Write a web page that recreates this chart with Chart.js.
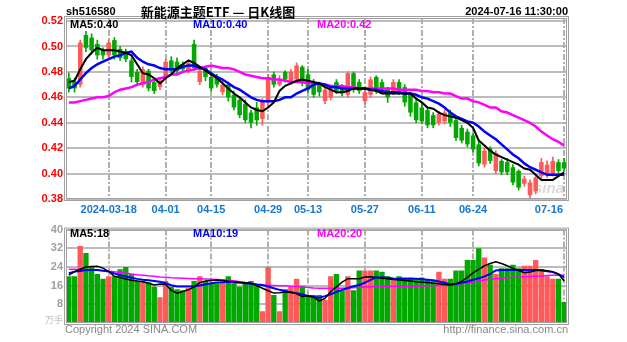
<!DOCTYPE html>
<html>
<head>
<meta charset="utf-8">
<script src="https://cdn.jsdelivr.net/npm/chart.js@4.4.1/dist/chart.umd.min.js"></script>
<style>
html, body { margin: 0; padding: 0; background: #fff; }
#wrap { position: relative; width: 627px; height: 342px; overflow: hidden; }
#kline { position: absolute; left: 0; top: 0; }
#vol { position: absolute; left: 0; top: 220px; }
</style>
</head>
<body>
<div id="wrap">
  <canvas id="kline" width="627" height="220"></canvas>
  <canvas id="vol" width="627" height="122"></canvas>
</div>
<script>
// trading days shown on the chart
var dates = [
  '2024-03-07','2024-03-08','2024-03-11','2024-03-12','2024-03-13','2024-03-14','2024-03-15',
  '2024-03-18','2024-03-19','2024-03-20','2024-03-21','2024-03-22','2024-03-25','2024-03-26',
  '2024-03-27','2024-03-28','2024-03-29','2024-04-01','2024-04-02','2024-04-03','2024-04-08',
  '2024-04-09','2024-04-10','2024-04-11','2024-04-12','2024-04-15','2024-04-16','2024-04-17',
  '2024-04-18','2024-04-19','2024-04-22','2024-04-23','2024-04-24','2024-04-25','2024-04-26',
  '2024-04-29','2024-04-30','2024-05-06','2024-05-07','2024-05-08','2024-05-09','2024-05-10',
  '2024-05-13','2024-05-14','2024-05-15','2024-05-16','2024-05-17','2024-05-20','2024-05-21',
  '2024-05-22','2024-05-23','2024-05-24','2024-05-27','2024-05-28','2024-05-29','2024-05-30',
  '2024-05-31','2024-06-03','2024-06-04','2024-06-05','2024-06-06','2024-06-07','2024-06-11',
  '2024-06-12','2024-06-13','2024-06-14','2024-06-17','2024-06-18','2024-06-19','2024-06-20',
  '2024-06-21','2024-06-24','2024-06-25','2024-06-26','2024-06-27','2024-06-28','2024-07-01',
  '2024-07-02','2024-07-03','2024-07-04','2024-07-05','2024-07-08','2024-07-09','2024-07-10',
  '2024-07-11','2024-07-12','2024-07-15','2024-07-16'
];

var tickDates  = ['2024-03-18','2024-04-01','2024-04-15','2024-04-29','2024-05-13','2024-05-27','2024-06-11','2024-06-24','2024-07-16'];
var tickLabels = ['2024-03-18','04-01','04-15','04-29','05-13','05-27','06-11','06-24','07-16'];
var priceTicks = [0.38, 0.40, 0.42, 0.44, 0.46, 0.48, 0.50, 0.52];
var volTicks = [8, 16, 24, 32, 40];

var opens = [
  0.475,0.472,0.470,0.509,0.507,0.502,0.497,0.493,0.505,0.498,
  0.496,0.489,0.480,0.470,0.481,0.472,0.468,0.476,0.489,0.488,
  0.486,0.481,0.502,0.472,0.483,0.476,0.476,0.464,0.470,0.462,
  0.458,0.455,0.448,0.452,0.443,0.456,0.478,0.470,0.480,0.472,
  0.474,0.484,0.478,0.472,0.470,0.457,0.460,0.472,0.468,0.462,
  0.479,0.472,0.457,0.462,0.476,0.472,0.467,0.463,0.472,0.468,
  0.462,0.456,0.452,0.450,0.446,0.440,0.441,0.448,0.442,0.436,
  0.433,0.430,0.423,0.407,0.420,0.402,0.410,0.409,0.405,0.402,
  0.392,0.383,0.386,0.398,0.399,0.400,0.409,0.409
];
var highs = [
  0.479,0.475,0.505,0.512,0.510,0.505,0.499,0.505,0.507,0.500,
  0.498,0.491,0.482,0.484,0.482,0.474,0.475,0.490,0.492,0.491,
  0.488,0.489,0.505,0.484,0.484,0.478,0.478,0.473,0.472,0.465,
  0.460,0.458,0.450,0.456,0.459,0.478,0.480,0.477,0.481,0.482,
  0.487,0.485,0.482,0.474,0.472,0.468,0.468,0.474,0.470,0.480,
  0.480,0.474,0.468,0.476,0.477,0.474,0.468,0.474,0.474,0.470,
  0.464,0.458,0.455,0.452,0.448,0.449,0.450,0.450,0.444,0.438,
  0.435,0.432,0.425,0.420,0.421,0.418,0.411,0.412,0.407,0.403,
  0.398,0.395,0.399,0.412,0.410,0.413,0.411,0.412
];
var lows = [
  0.464,0.464,0.468,0.496,0.494,0.490,0.490,0.491,0.490,0.489,
  0.488,0.472,0.469,0.468,0.465,0.463,0.466,0.474,0.479,0.479,
  0.480,0.479,0.481,0.470,0.473,0.465,0.468,0.462,0.457,0.450,
  0.444,0.440,0.436,0.438,0.438,0.453,0.468,0.469,0.472,0.470,
  0.473,0.469,0.464,0.460,0.461,0.455,0.458,0.463,0.461,0.460,
  0.464,0.463,0.455,0.460,0.463,0.464,0.456,0.462,0.462,0.453,
  0.445,0.440,0.439,0.436,0.436,0.438,0.439,0.437,0.426,0.424,
  0.421,0.417,0.406,0.405,0.408,0.400,0.399,0.399,0.391,0.387,
  0.390,0.379,0.384,0.396,0.397,0.398,0.400,0.402
];
var closes = [
  0.467,0.467,0.503,0.499,0.497,0.493,0.493,0.503,0.493,0.491,
  0.490,0.476,0.472,0.482,0.467,0.465,0.472,0.488,0.481,0.481,
  0.482,0.487,0.483,0.481,0.476,0.467,0.470,0.470,0.460,0.452,
  0.446,0.442,0.440,0.442,0.457,0.476,0.470,0.473,0.474,0.480,
  0.485,0.471,0.466,0.462,0.464,0.466,0.466,0.465,0.463,0.479,
  0.466,0.465,0.464,0.474,0.465,0.466,0.460,0.472,0.464,0.456,
  0.448,0.442,0.441,0.438,0.438,0.447,0.448,0.440,0.428,0.426,
  0.423,0.419,0.408,0.418,0.410,0.416,0.401,0.401,0.393,0.389,
  0.396,0.393,0.397,0.409,0.407,0.410,0.402,0.404
];

var ma5 = [
  0.472,0.473,0.482,0.490,0.495,0.499,0.497,0.497,0.497,0.496,
  0.495,0.493,0.486,0.479,0.478,0.475,0.471,0.475,0.478,0.483,
  0.486,0.489,0.487,0.484,0.481,0.478,0.475,0.471,0.467,0.463,
  0.460,0.456,0.452,0.450,0.449,0.452,0.456,0.465,0.469,0.471,
  0.473,0.474,0.473,0.472,0.471,0.468,0.466,0.464,0.464,0.465,
  0.467,0.467,0.467,0.466,0.465,0.463,0.463,0.463,0.463,0.463,
  0.463,0.459,0.456,0.452,0.451,0.448,0.446,0.445,0.444,0.442,
  0.440,0.436,0.426,0.422,0.418,0.415,0.413,0.411,0.409,0.407,
  0.404,0.403,0.399,0.395,0.395,0.395,0.398,0.401
];
var ma10 = [
  0.467,0.469,0.474,0.479,0.483,0.486,0.488,0.490,0.492,0.493,
  0.495,0.496,0.491,0.488,0.486,0.485,0.483,0.482,0.482,0.482,
  0.484,0.485,0.485,0.483,0.482,0.479,0.476,0.474,0.471,0.468,
  0.466,0.463,0.460,0.458,0.457,0.457,0.457,0.458,0.460,0.460,
  0.463,0.465,0.467,0.470,0.471,0.470,0.468,0.468,0.467,0.467,
  0.467,0.467,0.467,0.466,0.466,0.465,0.464,0.464,0.464,0.463,
  0.463,0.462,0.460,0.459,0.457,0.455,0.452,0.448,0.445,0.443,
  0.441,0.440,0.437,0.433,0.430,0.427,0.423,0.419,0.415,0.412,
  0.408,0.405,0.403,0.401,0.399,0.399,0.399,0.399
];
var ma20 = [
  0.456,0.456,0.457,0.458,0.459,0.460,0.460,0.461,0.464,0.466,
  0.467,0.468,0.470,0.471,0.472,0.474,0.475,0.476,0.478,0.478,
  0.480,0.481,0.482,0.483,0.484,0.485,0.484,0.483,0.483,0.482,
  0.480,0.478,0.477,0.476,0.475,0.475,0.474,0.474,0.473,0.472,
  0.472,0.472,0.471,0.471,0.470,0.470,0.469,0.469,0.469,0.468,
  0.468,0.467,0.467,0.467,0.467,0.467,0.467,0.467,0.466,0.466,
  0.466,0.466,0.465,0.465,0.464,0.464,0.463,0.463,0.461,0.459,
  0.459,0.457,0.456,0.454,0.452,0.452,0.449,0.448,0.446,0.444,
  0.442,0.440,0.437,0.433,0.430,0.427,0.425,0.422
];

// volume (万手)
var volumes = [
  20,20,33,30,24,21,19,20,20,23,
  24,21,18,18,17.5,15.5,11,18,15.5,14.5,
  14,15,18,20,18,17,17,17.5,20,17,
  15.5,17,18,16.5,5,24,12,5,14.5,15.5,
  19,16,12,12,12,10,20,21,14,20,
  14,22.5,22.5,22.5,22.5,22,20,19,20,19.5,
  19.5,19,19.5,18.5,18.5,22,19,19,22.5,22.5,
  27,27,32,28,25,21,23.5,23.5,25,23.5,
  24.5,24.5,27,23,20,19,19,9
];
var vma5 = [
  20.5,22,23,24,24.2,24.3,23.5,22,20,19.5,
  18.8,18.3,18,17.7,17,16.3,16.7,16.5,14,12.8,
  13.5,14.2,15.5,17.3,18,18.2,18.4,18.2,17.9,17.7,
  17.4,17.2,17,16,14.9,13.8,12.8,13,13.3,13.2,
  12.5,11.4,11.7,11,9.5,10.5,13.5,15.5,17.5,19,
  19,19,19.7,19.8,19.5,19.2,18.9,18.6,18.4,18.2,
  18,17.7,17.5,17.3,17,16.8,16.5,16.3,16.8,17.8,
  19.5,21.5,23,24.5,25.5,26.2,25.5,24.5,23.4,22.5,
  21.5,21.8,22.5,22.7,22.4,22,21,18
];
var vma10 = [
  21.3,22,22.3,22.7,22.7,22.7,22.4,22,21.2,20.5,
  19.9,19.4,18.9,18.5,18.3,18,17.7,17,16.2,15.6,
  15.6,15.6,15.6,16.1,16.6,17,17.3,17.5,17.7,17.5,
  17.2,17,16.8,16.5,16.3,15.6,14.9,14.2,13.7,13.2,
  12.8,12.3,11.6,11.2,10.8,11.5,12.3,13.3,14.2,15,
  15.7,16.3,17.3,18.5,19.5,19.6,19.4,19.1,19,19,
  19,18.9,18.7,18.5,18.3,17.8,17.2,16.5,16.7,17.2,
  17.8,18.5,19.2,19.9,21,22.5,22.7,22.7,22.7,22.7,
  22.7,22.7,22.7,22.5,22.2,21.8,20.8,19.6
];
var vma20 = [
  23,23,22.9,22.8,22.8,22.7,22.4,22.2,21.9,21.6,
  21.4,21,20.7,20.5,20.2,20,19.7,19.6,19.4,19.3,
  19.2,19.1,19,18.9,18.8,18.7,18.6,18.5,18.4,18.1,
  17.7,17.3,17,16.6,16.3,16.2,16.1,16,15.9,15.7,
  15.6,15.4,15.2,15,14.9,14.9,14.9,14.9,14.9,15,
  15.1,15.3,15.4,15.5,15.6,15.6,15.6,15.6,15.6,15.6,
  15.6,15.7,15.8,15.9,16,16.1,16.2,16.3,16.6,16.9,
  17.2,17.6,18,18.4,18.7,19,19.2,19.4,19.6,19.7,
  19.8,19.9,20,20.1,20.3,20.4,20.4,20.4
];

var UP = '#ff5a5a', DOWN = '#00a800';
var BLUE_TXT = '#1478d2';
var FONT = '"Liberation Sans", Arial, sans-serif';
var candleColors = closes.map(function (c, i) { return c >= opens[i] ? UP : DOWN; });

function txt(ctx, s, x, y, color, font, align) {
  ctx.save();
  ctx.fillStyle = color;
  ctx.font = font;
  ctx.textAlign = align || 'left';
  ctx.textBaseline = 'middle';
  ctx.fillText(s, x, y);
  ctx.restore();
}

function drawDateGrid(chart) {
  var ctx = chart.ctx, a = chart.chartArea, xs = chart.scales.x;
  ctx.save();
  ctx.strokeStyle = '#b0b0b0';
  ctx.lineWidth = 2;
  ctx.setLineDash([6, 2, 2, 2]);
  tickDates.forEach(function (d) {
    var x = Math.round(xs.getPixelForValue(dates.indexOf(d)));
    ctx.beginPath();
    ctx.moveTo(x, a.top);
    ctx.lineTo(x, a.bottom);
    ctx.stroke();
  });
  ctx.restore();
}

function drawFrame(chart) {
  var ctx = chart.ctx, a = chart.chartArea;
  ctx.save();
  ctx.strokeStyle = '#a0a0a0';
  ctx.lineWidth = 1;
  ctx.strokeRect(a.left - 1.5, a.top - 1.5, a.right - a.left + 3, a.bottom - a.top + 3);
  ctx.strokeRect(a.left + 0.5, a.top + 0.5, a.right - a.left - 1, a.bottom - a.top - 1);
  ctx.restore();
}

function maLine(data, color, width) {
  return { type: 'line', data: data, borderColor: color, borderWidth: width,
           pointRadius: 0, tension: 0, fill: false, order: 0 };
}

var pricePlugin = {
  id: 'priceDeco',
  beforeDatasetsDraw: drawDateGrid,
  afterDraw: function (chart) {
    var ctx = chart.ctx, a = chart.chartArea, xs = chart.scales.x;
    drawFrame(chart);
    txt(ctx, 'sh516580', 66, 12, '#000', 'bold 11px ' + FONT);
    txt(ctx, '新能源主题ETF — 日K线图', 218, 12, '#000', 'bold 13px "Noto Sans CJK SC", sans-serif', 'center');
    txt(ctx, '2024-07-16 11:30:00', 568, 12, '#000', 'bold 11px ' + FONT, 'right');
    txt(ctx, 'MA5:' + ma5[ma5.length - 1].toFixed(2), 70, 25, '#000', 'bold 11px ' + FONT);
    txt(ctx, 'MA10:' + ma10[ma10.length - 1].toFixed(2), 193, 25, '#0000ff', 'bold 11px ' + FONT);
    txt(ctx, 'MA20:' + ma20[ma20.length - 1].toFixed(2), 317, 25, '#ff00ff', 'bold 11px ' + FONT);
    ctx.save();
    ctx.font = 'bold 11px ' + FONT;
    tickDates.forEach(function (d, k) {
      var x = xs.getPixelForValue(dates.indexOf(d));
      var w = ctx.measureText(tickLabels[k]).width;
      var left = Math.min(x - w / 2, a.right - 4 - w);
      txt(ctx, tickLabels[k], left, a.bottom + 11, BLUE_TXT, 'bold 11px ' + FONT);
    });
    ctx.restore();
    txt(ctx, 'sina', a.right - 18, a.bottom - 10, 'rgba(150,150,150,0.35)', 'italic bold 15px ' + FONT, 'center');
  }
};

new Chart(document.getElementById('kline'), {
  type: 'bar',
  data: {
    labels: dates,
    datasets: [
      maLine(ma5, '#000000', 2),
      maLine(ma10, '#0000ff', 2.5),
      maLine(ma20, '#ff00ff', 2.5),
      {
        data: opens.map(function (o, i) { return [Math.min(o, closes[i]), Math.max(o, closes[i])]; }),
        backgroundColor: candleColors, grouped: false, order: 1,
        barPercentage: 0.8, categoryPercentage: 1, minBarLength: 1
      },
      {
        data: lows.map(function (l, i) { return [l, highs[i]]; }),
        backgroundColor: candleColors, grouped: false, order: 2, barThickness: 1
      }
    ]
  },
  options: {
    responsive: false,
    animation: false,
    events: [],
    layout: { padding: { left: 0, right: 60, top: 18, bottom: 0 } },
    plugins: { legend: { display: false }, tooltip: { enabled: false } },
    scales: {
      x: {
        ticks: { display: false },
        grid: { display: false },
        border: { display: false },
        afterFit: function (s) { s.height = 21; }
      },
      y: {
        min: 0.38,
        max: 0.5224,
        afterBuildTicks: function (s) { s.ticks = priceTicks.map(function (v) { return { value: v }; }); },
        afterFit: function (s) { s.width = 66; },
        ticks: {
          color: '#ff0000', padding: 3,
          font: { family: FONT, size: 11, weight: 'bold' },
          callback: function (v) { return Number(v).toFixed(2); }
        },
        grid: { color: '#bcbcbc', lineWidth: 2, drawTicks: false },
        border: { display: false }
      }
    }
  },
  plugins: [pricePlugin]
});

var volPlugin = {
  id: 'volDeco',
  beforeDatasetsDraw: drawDateGrid,
  afterDraw: function (chart) {
    var ctx = chart.ctx, a = chart.chartArea;
    drawFrame(chart);
    txt(ctx, 'MA5:' + Math.floor(vma5[vma5.length - 1]), 70, 14, '#000', 'bold 11px ' + FONT);
    txt(ctx, 'MA10:' + Math.floor(vma10[vma10.length - 1]), 193, 14, '#0000ff', 'bold 11px ' + FONT);
    txt(ctx, 'MA20:' + Math.floor(vma20[vma20.length - 1]), 317, 14, '#ff00ff', 'bold 11px ' + FONT);
    txt(ctx, '万手', 63, a.bottom - 3, '#c0c0c0', '9px "Noto Sans CJK SC", sans-serif', 'right');
    txt(ctx, 'Copyright 2024 SINA.COM', 65, a.bottom + 7, '#888', '11px ' + FONT);
    txt(ctx, 'http://finance.sina.com.cn', 568, a.bottom + 7, '#888', '11px ' + FONT, 'right');
  }
};

new Chart(document.getElementById('vol'), {
  type: 'bar',
  data: {
    labels: dates,
    datasets: [
      maLine(vma5, '#000000', 1.5),
      maLine(vma10, '#0000ff', 2),
      maLine(vma20, '#ff00ff', 1.5),
      {
        data: volumes, backgroundColor: candleColors, order: 1,
        barPercentage: 0.94, categoryPercentage: 1
      }
    ]
  },
  options: {
    responsive: false,
    animation: false,
    events: [],
    layout: { padding: { left: 0, right: 60, top: 8, bottom: 19 } },
    plugins: { legend: { display: false }, tooltip: { enabled: false } },
    scales: {
      x: {
        ticks: { display: false },
        grid: { display: false },
        border: { display: false },
        afterFit: function (s) { s.height = 0; }
      },
      y: {
        min: 0,
        max: 40,
        afterBuildTicks: function (s) { s.ticks = volTicks.map(function (v) { return { value: v }; }); },
        afterFit: function (s) { s.width = 66; },
        ticks: {
          color: '#a0a0a0', padding: 3,
          font: { family: FONT, size: 11, weight: 'bold' }
        },
        grid: { color: '#bcbcbc', lineWidth: 2, drawTicks: false },
        border: { display: false }
      }
    }
  },
  plugins: [volPlugin]
});
</script>
</body>
</html>
